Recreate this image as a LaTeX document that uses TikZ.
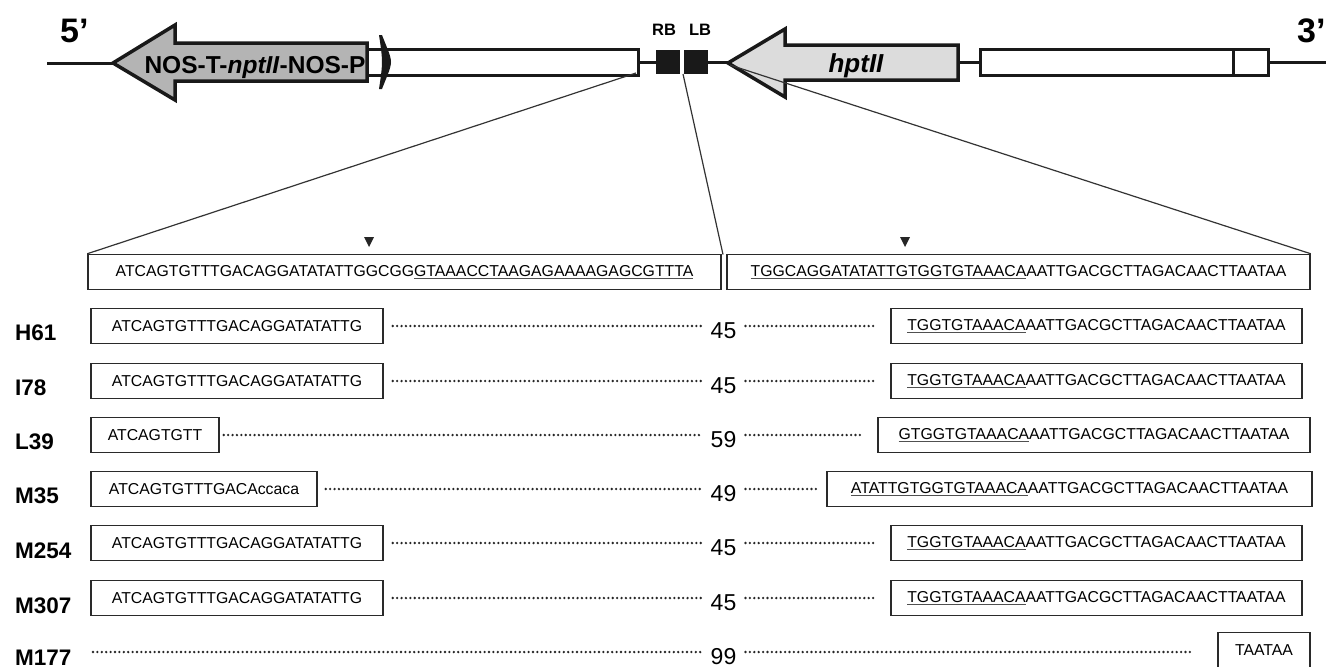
\documentclass[tikz,border=0pt]{standalone}
\usepackage{fontspec}
\setmainfont{Liberation Sans}
\definecolor{arrowgrayA}{HTML}{B4B4B4}
\definecolor{arrowgrayB}{HTML}{DCDCDC}
\definecolor{boxline}{HTML}{2A2A2A}
\definecolor{ulgray}{HTML}{505050}
\newsavebox\ulbox
\newcommand{\useg}[1]{\sbox\ulbox{#1}\rlap{\textcolor{ulgray}{\rule[-2.8pt]{\wd\ulbox}{1.3pt}}}\usebox\ulbox}
\newcommand{\sbx}[5]{\node[seqbox,minimum width={#3-#2}] (#1) at ({(#2+#3)/2},#4) {#5};}
\newcommand{\rightseq}{\useg{TGGTGTAAACA}AATTGACGCTTAGACAACTTAATAA}
\begin{document}
\begin{tikzpicture}[x=1pt,y=-1pt,
  seqbox/.style={draw=boxline,line width=1.5pt,minimum height=35pt,inner sep=0pt,font=\fontsize{15.8}{18}\selectfont},
  rowlabel/.style={anchor=base west,inner sep=0pt,font=\fontsize{22.5}{26}\selectfont\bfseries},
  numlabel/.style={anchor=base,inner xsep=9pt,inner ysep=0pt,font=\fontsize{23}{26}\selectfont},
  dotl/.style={line width=2.6pt,line cap=round,dash pattern=on 0pt off 4.4pt,draw=black!85},
  zoomline/.style={line width=1.2pt,draw=black!80},
  mapline/.style={line width=3pt,draw=black!90},
  mapbox/.style={line width=3pt,draw=black!90,fill=white},
  maparrow/.style={line width=3.5pt,draw=black!90,line join=miter},
  ends/.style={anchor=base west,inner sep=0pt,font=\fontsize{34}{38}\selectfont\bfseries},
  border/.style={anchor=base,inner sep=0pt,font=\fontsize{16.5}{19}\selectfont\bfseries},
  tri/.style={fill=black!85}
]
\useasboundingbox (0,0) rectangle (1326,667);

% ---------- top map ----------
\node[ends] (five) at (60,42) {5’};
\node[ends] (three) at (1297,42) {3’};
\draw[mapline] (47,63) -- (113,63);
\filldraw[maparrow,fill=arrowgrayA] (113,63) -- (175,25) -- (175,43) -- (367,43) -- (367,81) -- (175,81) -- (175,100) -- cycle;
\node[anchor=base,inner sep=0pt,font=\fontsize{24.5}{28}\selectfont\bfseries] (nos) at (255,73) {NOS-T-\textit{nptII}-NOS-P};
\draw[mapbox] (367,49) rectangle (383,75);
\draw[mapbox] (385,49) rectangle (638,75);
\fill[black!90] (379,35) -- (382,35) .. controls (387,48) and (391,56) .. (391,62) .. controls (391,68) and (387,76) .. (382,89) -- (379,89) .. controls (381,76) and (382,68) .. (382,62) .. controls (382,56) and (381,48) .. (379,35) -- cycle;
\draw[mapline] (638,62) -- (656,62);
\fill[black!90] (656,50) rectangle (680,74);
\fill[black!90] (684,50) rectangle (708,74);
\node[border] (rb) at (664,35) {RB};
\node[border] (lb) at (700,35) {LB};
\draw[mapline] (708,62) -- (728,62);
\filldraw[maparrow,fill=arrowgrayB] (728,63) -- (785,29) -- (785,45) -- (958,45) -- (958,80) -- (785,80) -- (785,97) -- cycle;
\node[anchor=base,inner sep=0pt,font=\fontsize{26}{30}\selectfont\bfseries\itshape] (hpt) at (856,72) {hptII};
\draw[mapline] (958,62) -- (980,62);
\draw[mapbox] (980,49) rectangle (1268,75);
\draw[mapline] (1233,49) -- (1233,75);
\draw[mapline] (1268,62) -- (1326,62);

\coordinate (zA) at (636,73);
\coordinate (zB) at (683,74);
\coordinate (zC) at (730,65);

% ---------- header sequence ----------
\sbx{HL}{88}{721}{272}{ATCAGTGTTTGACAGGATATATTGGCGG\useg{GTAAACCTAAGAGAAAAGAGCGTTTA}}
\sbx{HR}{727}{1310}{272}{\useg{TGGCAGGATATATTGTGGTGTAAACA}AATTGACGCTTAGACAACTTAATAA}
\coordinate (zmid) at (723,254.5);
\draw[zoomline] (zA) -- (HL.north west);
\draw[zoomline] (zB) -- (zmid);
\draw[zoomline] (zC) -- (HR.north east);
\fill[tri] (364,237) -- (374,237) -- (369,247) -- cycle;
\fill[tri] (900,237) -- (910,237) -- (905,247) -- cycle;

% ---------- rows ----------
% H61
\node[rowlabel] (lab1) at (15,340) {H61};
\sbx{L1}{91}{383}{326}{ATCAGTGTTTGACAGGATATATTG}
\sbx{R1}{891}{1302}{326}{\rightseq}
\node[numlabel] (N1) at (723.5,338) {45};
\draw[dotl] ([xshift=9pt]L1.east) -- (N1.west |- L1.east);
\draw[dotl] (N1.east |- R1.west) -- ([xshift=-16pt]R1.west);
% I78
\node[rowlabel] (lab2) at (15,395) {I78};
\sbx{L2}{91}{383}{381}{ATCAGTGTTTGACAGGATATATTG}
\sbx{R2}{891}{1302}{381}{\rightseq}
\node[numlabel] (N2) at (723.5,393) {45};
\draw[dotl] ([xshift=9pt]L2.east) -- (N2.west |- L2.east);
\draw[dotl] (N2.east |- R2.west) -- ([xshift=-16pt]R2.west);
% L39
\node[rowlabel] (lab3) at (15,449) {L39};
\sbx{L3}{91}{219}{435}{ATCAGTGTT}
\sbx{R3}{878}{1310}{435}{\useg{GTGGTGTAAACA}AATTGACGCTTAGACAACTTAATAA}
\node[numlabel] (N3) at (723.5,447) {59};
\draw[dotl] ([xshift=4pt]L3.east) -- (N3.west |- L3.east);
\draw[dotl] (N3.east |- R3.west) -- ([xshift=-15pt]R3.west);
% M35
\node[rowlabel] (lab4) at (15,503) {M35};
\sbx{L4}{91}{317}{489}{ATCAGTGTTTGACAccaca}
\sbx{R4}{827}{1312}{489}{\useg{ATATTGTGGTGTAAACA}AATTGACGCTTAGACAACTTAATAA}
\node[numlabel] (N4) at (723.5,501) {49};
\draw[dotl] ([xshift=8pt]L4.east) -- (N4.west |- L4.east);
\draw[dotl] (N4.east |- R4.west) -- ([xshift=-9pt]R4.west);
% M254
\node[rowlabel] (lab5) at (15,558) {M254};
\sbx{L5}{91}{383}{543}{ATCAGTGTTTGACAGGATATATTG}
\sbx{R5}{891}{1302}{543}{\rightseq}
\node[numlabel] (N5) at (723.5,555) {45};
\draw[dotl] ([xshift=9pt]L5.east) -- (N5.west |- L5.east);
\draw[dotl] (N5.east |- R5.west) -- ([xshift=-16pt]R5.west);
% M307
\node[rowlabel] (lab6) at (15,613) {M307};
\sbx{L6}{91}{383}{598}{ATCAGTGTTTGACAGGATATATTG}
\sbx{R6}{891}{1302}{598}{\rightseq}
\node[numlabel] (N6) at (723.5,610) {45};
\draw[dotl] ([xshift=9pt]L6.east) -- (N6.west |- L6.east);
\draw[dotl] (N6.east |- R6.west) -- ([xshift=-16pt]R6.west);
% M177
\node[rowlabel] (lab7) at (15,665) {M177};
\coordinate (S7) at (93,652);
\sbx{R7}{1218}{1310}{650}{TAATAA}
\node[numlabel] (N7) at (723.5,664) {99};
\draw[dotl] (S7) -- (N7.west |- S7);
\draw[dotl] (N7.east |- S7) -- ([xshift=-23pt]R7.west |- S7);
\end{tikzpicture}
\end{document}
